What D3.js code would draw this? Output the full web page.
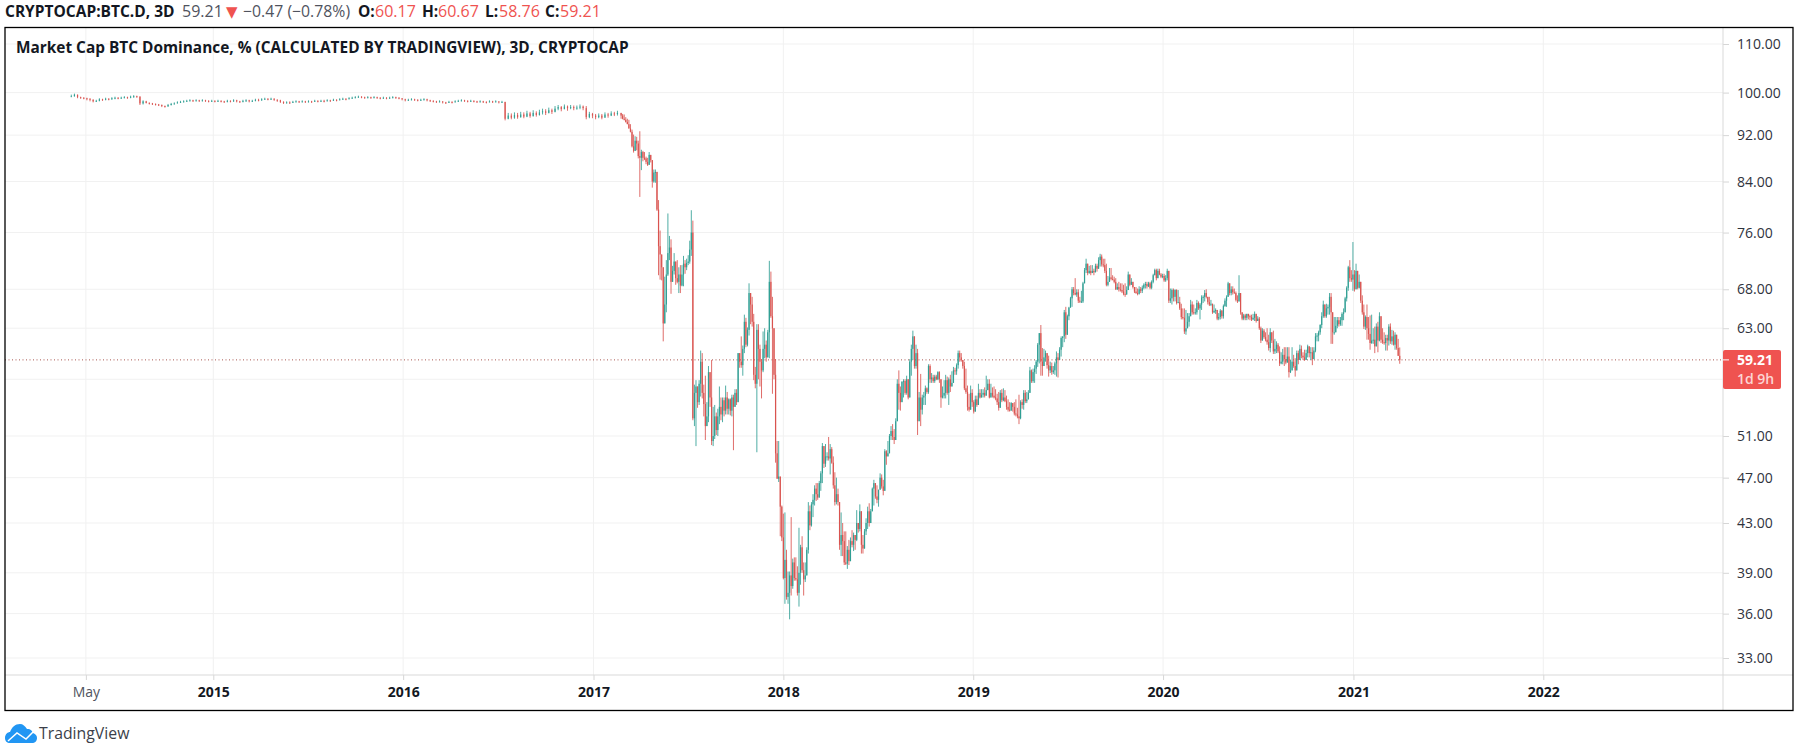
<!DOCTYPE html>
<html>
<head>
<meta charset="utf-8">
<title>BTC Dominance</title>
<script src="https://cdn.jsdelivr.net/npm/d3@7"></script>
<style>
  html, body { margin: 0; background: #fff; }
  svg { display: block; font-family: "Open Sans", sans-serif; }
</style>
</head>
<body>
<svg id="graph" width="1805" height="756"></svg>
<script>
// 2014 to Feb 2017 is nearly flat, read every second bar (6 days)
const flatStart = "2014-04-03";
const flatCloses = [
  99.3,99.6,99.1,99.0,98.9,98.8,98.6,98.3,98.4,98.7,98.6,98.8,98.7,98.9,99.0,98.9,99.0,99.1,99.0,99.2,
  99.3,99.2,97.9,98.3,98.0,97.9,97.8,97.7,97.6,97.4,97.3,97.6,97.8,97.9,98.1,98.2,98.3,98.4,98.5,98.4,
  98.5,98.4,98.5,98.4,98.3,98.4,98.3,98.4,98.3,98.2,98.4,98.3,98.5,98.3,98.2,98.4,98.5,98.3,98.4,98.6,
  98.5,98.7,98.8,98.7,98.8,98.6,98.5,98.2,98.0,98.1,98.0,98.2,98.3,98.2,98.3,98.2,98.3,98.2,98.4,98.3,
  98.4,98.3,98.5,98.4,98.6,98.5,98.7,98.8,98.7,98.9,99.0,99.1,99.2,99.1,99.0,99.1,99.0,99.1,99.0,98.9,
  99.0,98.9,99.0,99.1,99.0,98.9,98.7,98.5,98.6,98.7,98.6,98.5,98.6,98.7,98.5,98.4,98.3,98.2,98.3,98.1,
  98.0,98.2,98.1,98.3,98.4,98.5,98.4,98.3,98.4,98.3,98.2,98.3,98.2,98.1,98.3,98.2,98.3,98.1,98.2,95.0,
  95.6,95.2,95.7,95.3,95.8,95.4,96.0,95.5,96.1,95.7,96.2,96.4,96.1,96.6,96.3,96.9,97.2,96.8,97.3,97.0,
  97.2,97.0,97.1,97.3,97.0,95.3,95.9,95.6,95.3,95.6,95.2,95.8,95.6,96.0,95.9,96.1
];
const flatHighs = [
  99.6,99.8,99.6,99.2,99.1,99.0,98.9,98.7,98.6,98.9,98.8,99.0,98.9,99.1,99.2,99.1,99.2,99.3,99.2,99.4,
  99.5,99.4,99.3,98.5,98.4,98.1,98.0,97.9,97.8,97.7,97.5,97.8,98.0,98.1,98.3,98.4,98.5,98.6,98.7,98.6,
  98.7,98.6,98.7,98.6,98.5,98.6,98.5,98.6,98.5,98.4,98.6,98.5,98.7,98.6,98.4,98.6,98.7,98.6,98.6,98.8,
  98.8,98.9,99.0,98.9,99.0,98.9,98.7,98.6,98.3,98.3,98.3,98.4,98.5,98.4,98.5,98.4,98.5,98.4,98.6,98.5,
  98.6,98.6,98.7,98.6,98.8,98.7,98.9,99.0,98.9,99.1,99.2,99.3,99.4,99.3,99.2,99.3,99.2,99.3,99.2,99.1,
  99.2,99.1,99.2,99.3,99.2,99.1,98.9,98.8,98.8,98.9,98.8,98.7,98.8,98.9,98.8,98.6,98.5,98.4,98.5,98.3,
  98.2,98.4,98.3,98.5,98.6,98.7,98.6,98.5,98.6,98.5,98.4,98.5,98.4,98.3,98.5,98.4,98.5,98.3,98.4,98.2,
  96.1,96.0,96.2,96.1,96.3,96.2,96.5,96.3,96.6,96.4,96.7,96.9,96.8,97.1,96.9,97.4,97.6,97.4,97.7,97.5,
  97.6,97.5,97.5,97.7,97.5,97.4,96.3,96.1,95.9,96.0,95.9,96.2,96.1,96.4,96.3,96.5
];
const flatLows = [
  99.2,99.2,98.9,98.8,98.7,98.5,98.3,98.1,98.2,98.3,98.4,98.5,98.5,98.6,98.7,98.7,98.8,98.9,98.8,98.9,
  99.0,99.0,97.6,97.7,97.9,97.7,97.6,97.5,97.4,97.2,97.1,97.3,97.5,97.7,97.9,98.0,98.1,98.2,98.3,98.2,
  98.3,98.2,98.3,98.2,98.1,98.2,98.1,98.2,98.1,98.0,98.1,98.1,98.2,98.1,98.0,98.1,98.2,98.1,98.2,98.3,
  98.3,98.4,98.6,98.5,98.6,98.4,98.2,98.0,97.8,97.9,97.8,98.0,98.1,98.0,98.1,98.0,98.1,98.0,98.2,98.1,
  98.2,98.1,98.3,98.2,98.4,98.3,98.5,98.6,98.5,98.7,98.8,98.9,99.0,98.9,98.8,98.9,98.8,98.9,98.8,98.7,
  98.8,98.7,98.8,98.9,98.8,98.7,98.5,98.3,98.4,98.5,98.4,98.3,98.4,98.5,98.3,98.2,98.1,98.0,98.1,97.9,
  97.8,98.0,97.9,98.1,98.2,98.3,98.2,98.1,98.2,98.1,98.0,98.1,98.0,97.9,98.1,98.0,98.1,97.9,98.0,94.7,
  94.9,94.9,95.0,95.0,95.2,95.1,95.3,95.2,95.4,95.4,95.6,95.8,95.7,96.0,95.9,96.2,96.6,96.4,96.8,96.5,
  96.8,96.6,96.7,96.8,96.6,94.9,95.1,95.1,94.9,95.1,94.9,95.2,95.2,95.5,95.5,95.6
];

// Feb 2017 onwards, one value per 3 day bar. open = previous close
const activeStart = "2017-02-23";
const closes = [
  95.6,95.0,94.8,94.4,94.0,93.2,92.6,90.0,89.2,91.0,90.5,88.3,88.0,89.0,88.0,87.9,87.3,86.8,88.5,87.6,
  84.0,85.5,85.6,79.5,74.0,72.8,71.0,63.6,66.0,70.0,73.0,73.8,69.0,70.5,71.8,69.5,69.0,70.0,68.5,70.0,
  71.5,71.0,71.6,71.8,73.5,76.0,52.8,55.5,56.2,54.5,56.5,59.0,55.5,54.3,52.0,53.0,57.8,55.0,50.5,51.0,
  53.0,51.6,53.0,54.0,53.2,54.7,53.6,55.0,53.8,54.8,53.6,55.0,54.0,55.5,54.5,60.0,59.0,58.6,60.5,63.8,
  61.0,62.8,67.5,66.0,63.8,57.5,56.5,62.8,60.5,59.0,58.0,60.5,61.0,59.5,62.5,69.0,64.5,63.0,57.5,49.3,
  46.9,47.1,44.4,41.8,38.6,40.0,37.2,37.5,38.8,38.0,39.8,38.6,38.5,37.5,39.0,41.0,39.2,38.5,38.8,40.8,
  44.0,42.8,44.6,45.0,46.0,45.5,45.2,46.5,47.4,50.0,48.3,49.0,49.0,48.8,49.7,48.4,46.3,44.8,45.5,44.8,
  41.2,42.0,41.5,39.8,39.7,40.8,39.9,41.5,41.2,42.0,41.6,43.0,42.5,44.0,41.2,40.9,42.3,43.0,44.0,43.0,
  44.0,46.0,46.5,45.3,45.0,45.9,47.0,46.2,45.8,49.5,49.0,49.3,51.0,51.5,50.9,50.6,52.5,56.5,55.5,54.5,
  56.7,56.8,55.5,57.0,55.0,59.0,60.5,62.0,58.5,60.0,52.5,55.0,53.7,55.0,55.2,56.0,55.6,58.5,57.0,57.2,
  56.8,57.3,57.0,57.8,57.0,55.0,55.2,55.5,56.9,55.5,57.0,56.2,56.6,58.0,57.9,58.6,60.0,59.5,59.2,58.5,
  56.0,55.6,54.0,53.7,55.5,54.5,53.5,54.8,54.2,55.5,55.0,55.3,55.5,55.2,55.8,56.5,55.0,55.5,55.2,55.0,
  54.9,54.5,53.9,55.5,54.7,55.0,54.6,54.0,53.7,53.6,54.4,54.0,53.3,53.2,53.0,52.8,54.5,54.2,55.5,54.6,
  54.8,55.5,58.0,56.8,57.8,58.2,59.0,61.0,62.4,59.0,58.5,59.5,60.0,58.6,58.0,58.5,57.8,58.0,58.8,59.5,
  59.2,60.4,61.8,62.0,65.0,62.2,64.5,65.6,66.8,68.0,67.5,67.3,67.6,66.5,66.4,66.4,68.8,70.6,71.5,70.2,
  70.5,70.2,70.5,70.3,71.2,70.8,72.0,72.5,71.4,71.3,70.5,68.6,69.0,69.6,69.4,69.3,69.0,68.0,68.3,68.0,
  67.9,67.7,67.4,67.3,67.9,70.0,68.6,69.0,68.3,67.7,67.5,67.4,68.0,67.8,68.2,68.6,68.7,68.4,68.8,68.2,
  69.0,69.9,70.6,69.5,70.5,70.0,69.7,69.8,69.2,69.5,70.5,66.5,66.8,67.9,67.0,67.9,66.2,66.3,65.5,64.4,
  64.3,62.6,63.0,63.8,64.5,66.0,65.0,64.9,65.0,66.2,65.5,66.0,66.9,67.0,67.5,67.0,66.3,66.0,66.1,65.0,
  65.2,65.3,64.2,64.4,65.2,64.5,65.8,66.5,67.0,68.8,67.5,68.0,67.6,67.5,66.6,66.4,67.5,65.0,64.2,64.6,
  64.3,64.8,64.5,64.4,64.1,64.3,64.8,63.9,64.2,63.0,61.5,62.7,61.9,61.6,61.3,60.6,62.5,61.5,60.2,60.5,
  61.0,60.2,58.8,59.0,59.8,59.3,58.9,59.6,57.8,58.0,59.0,58.5,58.0,60.0,59.2,60.5,59.7,59.5,59.2,60.0,
  60.8,60.0,60.1,59.3,60.3,62.0,62.1,62.5,63.4,64.5,66.0,64.5,65.5,65.7,67.0,65.0,62.5,62.5,63.3,64.0,
  63.5,64.0,64.8,65.0,66.8,68.2,71.0,69.5,69.3,70.0,68.0,70.5,68.2,69.0,66.5,65.0,63.2,64.4,63.0,62.3,
  61.2,61.5,61.6,60.8,63.2,61.5,64.5,61.6,61.3,61.2,61.8,61.5,63.2,61.4,62.0,61.0,62.2,60.6,59.68,59.21
];
const highs = [
  96.0,95.9,95.8,95.3,95.0,94.8,94.0,93.0,92.1,91.8,91.7,91.0,92.7,89.4,89.2,89.0,88.2,88.0,89.0,88.4,
  87.6,86.0,86.0,84.7,81.0,76.3,72.0,69.7,69.7,72.0,78.9,75.5,75.0,71.2,73.0,70.8,72.0,71.0,71.3,71.3,
  72.6,72.0,72.2,72.7,74.8,79.4,77.8,56.4,56.9,56.2,56.9,60.3,60.0,56.4,57.4,54.5,58.5,57.0,59.2,54.0,
  54.2,53.4,53.8,56.2,55.0,55.0,55.0,56.3,55.6,54.9,54.9,55.3,55.3,55.9,55.9,60.0,60.0,62.0,60.9,64.7,
  64.3,63.1,68.8,66.8,67.0,64.8,58.4,63.5,63.5,61.0,59.3,62.6,63.0,61.5,62.8,71.9,70.4,67.0,62.8,59.3,
  50.5,50.5,47.0,44.5,43.8,43.9,40.8,39.1,39.1,43.5,40.1,40.2,40.2,39.5,42.6,41.2,41.9,39.8,39.8,41.0,
  44.8,44.5,44.8,45.5,46.3,46.5,46.5,46.7,47.6,50.3,49.2,50.2,49.4,50.9,50.2,49.9,49.0,47.5,47.0,46.0,
  44.3,43.9,43.0,42.3,42.3,41.1,41.6,41.8,42.4,42.2,42.0,44.1,43.0,44.6,43.0,42.0,42.5,43.4,44.4,44.7,
  44.2,46.1,46.8,46.1,46.3,45.9,47.4,47.3,46.8,49.7,49.6,50.5,51.2,52.0,52.2,51.7,52.8,57.0,58.0,56.2,
  56.8,57.0,57.0,57.4,56.3,59.3,61.0,62.7,61.0,61.0,60.5,55.6,57.6,55.3,55.6,56.3,56.1,58.7,58.7,57.7,
  57.5,57.5,57.5,57.9,57.9,57.0,56.2,56.9,57.5,57.3,57.2,57.5,57.9,58.4,58.3,58.8,60.3,60.3,60.0,59.2,
  59.0,58.2,56.3,55.4,56.3,55.9,54.7,55.2,55.2,56.5,55.9,55.9,55.9,56.1,57.4,57.0,57.0,56.5,56.1,56.2,
  55.9,55.4,55.6,55.8,55.9,56.0,55.8,55.2,54.8,54.5,54.5,54.4,54.5,54.8,53.9,55.3,54.7,54.8,55.8,55.8,
  55.6,55.8,58.4,58.1,58.2,58.6,59.2,61.2,62.4,63.4,60.6,60.5,60.3,59.7,59.7,59.0,58.9,58.5,59.0,60.2,
  60.0,60.7,62.0,62.0,65.3,65.7,64.7,65.7,67.0,68.3,68.3,69.5,68.0,68.0,67.0,67.8,69.0,70.9,72.2,71.3,
  71.2,71.3,71.3,70.8,71.5,71.5,72.4,72.9,72.8,72.2,72.2,71.5,69.8,70.9,70.9,69.9,69.7,69.5,68.8,69.0,
  68.8,68.8,68.6,68.8,68.4,70.4,69.7,69.5,69.0,68.3,68.3,68.1,68.4,68.3,68.5,68.8,69.0,69.0,69.0,69.0,
  69.2,70.1,70.8,70.8,70.8,70.8,70.2,70.1,70.1,69.9,70.8,69.9,68.1,68.1,68.1,68.0,68.0,67.9,67.0,66.1,
  65.5,65.5,65.3,64.9,64.9,66.6,66.4,66.0,65.5,66.6,66.4,66.2,67.2,67.2,67.9,68.0,67.0,67.0,66.6,66.0,
  66.0,65.5,65.3,64.9,65.4,65.3,66.0,66.8,67.2,69.0,68.4,68.4,68.4,68.1,67.7,67.2,69.9,67.2,65.0,64.8,
  64.8,64.8,64.8,64.7,64.7,64.8,65.1,64.7,64.5,64.4,63.2,63.0,62.9,62.5,63.0,62.2,63.0,62.5,62.7,61.7,
  61.4,61.2,60.8,60.1,60.5,60.7,60.7,60.7,60.7,59.2,60.7,59.8,59.4,60.3,60.3,61.0,60.9,60.1,60.4,60.4,
  61.0,60.5,60.7,60.7,60.7,62.4,62.4,62.7,63.5,65.0,66.5,65.3,66.1,66.0,67.5,67.5,65.0,64.4,64.4,64.4,
  64.4,64.4,65.0,65.5,67.0,68.4,71.2,72.0,70.6,74.6,70.6,71.5,70.0,70.0,69.0,67.2,66.0,64.6,66.0,64.4,
  64.6,64.7,63.0,63.2,63.6,63.8,65.0,63.2,63.0,62.5,62.2,62.2,63.5,63.6,62.8,62.7,62.5,61.7,61.7,60.67
];
const lows = [
  95.0,94.9,94.7,94.3,94.0,93.2,92.5,89.8,88.9,89.6,89.3,87.9,81.5,85.9,87.4,87.6,86.9,86.6,87.0,87.2,
  83.0,83.8,83.8,79.3,69.9,69.3,69.2,61.4,65.2,65.0,69.8,72.0,67.4,69.6,70.0,68.6,68.8,67.5,67.5,68.4,
  68.4,70.1,70.6,71.3,71.5,72.6,52.6,52.0,50.0,53.9,54.2,55.1,54.9,53.0,50.6,52.6,52.4,54.0,50.1,50.0,
  50.7,51.1,51.0,52.2,52.6,52.4,53.0,53.2,53.2,53.2,53.1,53.0,49.6,54.0,54.2,56.6,58.3,58.3,57.4,60.0,
  60.7,60.8,62.1,63.5,63.2,56.9,56.0,49.4,57.0,56.2,54.9,57.8,59.4,59.0,59.5,59.4,64.3,55.4,57.0,48.4,
  46.9,46.6,41.9,41.5,38.5,36.7,37.0,36.7,35.6,37.3,37.8,38.4,38.4,37.3,36.5,38.1,39.0,37.3,38.3,39.0,
  40.5,42.4,42.7,43.5,44.5,44.9,45.0,45.2,45.8,46.5,47.9,48.0,48.6,48.6,47.3,48.3,46.0,44.5,44.6,44.5,
  40.8,40.3,40.3,39.6,39.6,39.3,39.6,40.1,41.0,40.7,40.8,41.5,42.2,42.3,40.5,40.5,41.2,42.0,42.5,42.7,
  43.0,44.2,44.5,45.1,44.7,44.4,45.9,46.0,45.4,45.9,48.2,49.0,49.7,50.6,50.6,50.2,51.0,52.7,53.7,53.6,
  54.5,55.0,55.3,55.3,54.8,56.6,57.4,59.2,58.2,58.2,51.1,53.0,52.0,53.2,54.2,54.2,55.4,55.4,56.6,56.6,
  56.6,56.6,56.9,56.9,56.6,53.9,54.9,54.9,54.9,55.3,54.2,55.6,56.4,56.6,57.5,57.5,58.2,59.0,59.0,58.2,
  55.8,55.4,53.6,53.5,53.8,54.0,53.3,53.8,54.0,54.9,54.9,55.1,55.0,55.0,55.2,55.9,54.9,55.2,55.0,54.9,
  54.7,54.2,53.6,54.0,54.5,54.6,54.5,53.7,53.5,53.5,53.6,53.5,53.1,53.0,52.8,52.2,52.7,53.8,53.7,54.4,
  54.4,55.0,55.8,56.6,56.6,56.6,57.6,58.4,58.8,57.4,57.4,58.7,59.0,58.2,57.3,57.7,57.5,57.6,57.5,57.3,
  57.2,59.5,59.6,60.7,61.3,61.7,63.8,64.0,65.7,65.7,67.2,67.2,67.0,66.2,66.2,66.2,66.2,69.0,70.2,69.9,
  70.1,69.9,70.2,69.9,70.4,70.4,71.1,71.1,71.1,71.0,70.2,68.4,68.4,69.0,69.2,69.2,68.8,67.9,67.9,67.7,
  67.7,67.5,67.2,67.0,67.5,68.1,68.4,68.6,68.1,67.5,67.4,67.2,67.3,67.5,67.5,68.0,68.1,68.1,68.3,68.0,
  68.0,68.8,69.9,69.2,69.9,69.9,69.5,69.5,69.0,69.0,69.2,66.2,66.2,66.0,66.4,66.4,66.0,66.2,65.3,64.1,
  64.1,62.3,62.2,63.0,63.2,64.7,64.7,64.7,64.7,64.7,65.3,64.1,65.3,66.2,66.4,66.8,66.0,65.8,65.8,64.8,
  64.9,64.8,64.0,64.0,64.1,64.2,64.2,65.7,65.7,67.0,67.2,67.2,67.3,67.4,66.4,66.2,67.0,64.7,64.0,64.0,
  64.0,64.0,64.1,64.0,63.9,64.0,63.9,63.7,63.9,62.8,61.2,61.7,61.7,61.4,61.0,60.3,60.1,61.2,59.9,59.9,
  60.0,60.0,58.5,58.7,58.7,58.5,58.7,58.9,57.2,57.7,58.4,58.3,57.3,58.4,58.7,59.7,59.4,59.2,59.1,59.5,
  59.5,59.5,59.2,58.6,59.3,60.1,61.4,61.4,62.2,63.0,64.3,64.3,64.3,64.7,64.7,61.1,61.1,62.2,62.6,63.0,
  63.2,63.3,63.3,64.0,65.0,66.4,67.8,69.0,69.0,67.8,67.7,68.0,68.0,68.1,66.2,64.7,62.9,62.8,61.6,61.6,
  60.4,61.1,61.1,60.0,61.1,60.1,61.4,61.2,61.1,61.0,60.3,60.3,60.9,61.1,61.0,60.9,60.4,60.4,59.9,58.76
];

const yTicks = [110, 100, 92, 84, 76, 68, 63, 57, 51, 47, 43, 39, 36, 33];
const xTickDates = ["2014-05-01", "2015-01-01", "2016-01-01", "2017-01-01", "2018-01-01", "2019-01-01", "2020-01-01", "2021-01-01", "2022-01-01"];
const xTickLabels = ["May", "2015", "2016", "2017", "2018", "2019", "2020", "2021", "2022"];
const lastPrice = 59.21;
const countdown = "1d 9h";

const chartTitle = "Market Cap BTC Dominance, % (CALCULATED BY TRADINGVIEW), 3D, CRYPTOCAP";
const upColor = "#2f9e93";
const downColor = "#d9534f";
const labelColor = "#ef5350";
const textColor = "#131722";

const frame = { left: 5, right: 1793, top: 27, bottom: 710, axisX: 1723, axisY: 675 };

const x = d3.scaleUtc()
  .domain([new Date("2015-01-01"), new Date("2022-01-01")])
  .range([213.3, 1543.3]);

const y = d3.scaleLog()
  .domain([33, 110])
  .range([658, 44]);

const flatDates = flatCloses.map((d, i) => d3.utcDay.offset(new Date(flatStart), i * 6));
const activeDates = closes.map((d, i) => d3.utcDay.offset(new Date(activeStart), i * 3));
const allDates = flatDates.concat(activeDates);
const allCloses = flatCloses.concat(closes);
const allHighs = flatHighs.concat(highs);
const allLows = flatLows.concat(lows);

const bars = allDates.map((date, i) => {
  const close = allCloses[i];
  const open = i ? allCloses[i - 1] : close;
  return {
    date, open, close,
    high: Math.max(allHighs[i], open, close),
    low: Math.min(allLows[i], open, close)
  };
});

const svg = d3.select("#graph");

// grid
svg.append("g")
  .selectAll("line")
  .data(yTicks)
  .join("line")
  .attr("x1", frame.left)
  .attr("x2", frame.axisX)
  .attr("y1", (d) => y(d))
  .attr("y2", (d) => y(d))
  .attr("stroke", "#f1f1f1");

svg.append("g")
  .selectAll("line")
  .data(xTickDates)
  .join("line")
  .attr("x1", (d) => x(new Date(d)))
  .attr("x2", (d) => x(new Date(d)))
  .attr("y1", frame.top)
  .attr("y2", frame.axisY)
  .attr("stroke", "#f1f1f1");

// last price line
svg.append("line")
  .attr("x1", frame.left)
  .attr("x2", frame.axisX)
  .attr("y1", y(lastPrice))
  .attr("y2", y(lastPrice))
  .attr("stroke", "#a8564f")
  .attr("stroke-dasharray", "1 2.5");

// candles
const candle = svg.append("g")
  .selectAll("g")
  .data(bars)
  .join("g")
  .attr("fill", (d) => (d.close >= d.open ? upColor : downColor))
  .attr("stroke", (d) => (d.close >= d.open ? upColor : downColor));

candle.append("line")
  .attr("x1", (d) => x(d.date))
  .attr("x2", (d) => x(d.date))
  .attr("y1", (d) => y(d.high))
  .attr("y2", (d) => y(d.low))
  .attr("stroke-width", 0.85);

candle.append("rect")
  .attr("x", (d) => x(d.date) - 0.6)
  .attr("width", 1.2)
  .attr("y", (d) => y(Math.max(d.open, d.close)))
  .attr("height", (d) => Math.max(1, y(Math.min(d.open, d.close)) - y(Math.max(d.open, d.close))))
  .attr("stroke", "none");

// axes
const yAxis = svg.append("g")
  .attr("transform", `translate(${frame.axisX},0)`)
  .call(d3.axisRight(y).tickValues(yTicks).tickFormat(d3.format(".2f")).tickSize(6).tickPadding(8));
yAxis.select(".domain").remove();
yAxis.selectAll("line").attr("stroke", "#d6d6d6");
yAxis.selectAll("text")
  .attr("font-size", 14)
  .attr("font-family", '"Open Sans", sans-serif')
  .attr("fill", "#2f333d");

const xAxis = svg.append("g")
  .attr("transform", `translate(0,${frame.axisY})`)
  .call(d3.axisBottom(x)
    .tickValues(xTickDates.map((d) => new Date(d)))
    .tickFormat((d, i) => xTickLabels[i])
    .tickSize(5)
    .tickPadding(7));
xAxis.select(".domain").remove();
xAxis.selectAll("line").attr("stroke", "#d6d6d6");
xAxis.selectAll("text")
  .attr("font-size", 14)
  .attr("font-family", '"Open Sans", sans-serif')
  .attr("font-weight", (d, i) => (i ? 700 : 400))
  .attr("fill", (d, i) => (i ? textColor : "#50535e"));

// frame lines
svg.append("line").attr("x1", frame.axisX).attr("x2", frame.axisX).attr("y1", frame.top).attr("y2", frame.bottom).attr("stroke", "#d9d9d9");
svg.append("line").attr("x1", frame.left).attr("x2", frame.right).attr("y1", frame.axisY).attr("y2", frame.axisY).attr("stroke", "#d9d9d9");
svg.append("rect")
  .attr("x", frame.left)
  .attr("y", frame.top + 0.5)
  .attr("width", frame.right - frame.left)
  .attr("height", frame.bottom - frame.top)
  .attr("fill", "none")
  .attr("stroke", "#000")
  .attr("stroke-width", 1.3);

// price label
svg.append("rect")
  .attr("x", frame.axisX)
  .attr("y", 350)
  .attr("width", 58)
  .attr("height", 39)
  .attr("rx", 2)
  .attr("fill", labelColor);
svg.append("line")
  .attr("x1", frame.axisX)
  .attr("x2", frame.axisX + 6)
  .attr("y1", y(lastPrice))
  .attr("y2", y(lastPrice))
  .attr("stroke", "#fff");
svg.append("text")
  .attr("x", 1737)
  .attr("y", 365)
  .attr("font-size", 14)
  .attr("font-weight", 700)
  .attr("fill", "#fff")
  .text(d3.format(".2f")(lastPrice));
svg.append("text")
  .attr("x", 1737)
  .attr("y", 384)
  .attr("font-size", 14)
  .attr("font-weight", 600)
  .attr("fill", "#fcd5d4")
  .text(countdown);

// chart title
svg.append("text")
  .attr("x", 16)
  .attr("y", 53)
  .attr("font-size", 15.4)
  .attr("font-weight", 700)
  .attr("fill", textColor)
  .text(chartTitle);

// header row
const headerParts = [
  { x: 5, text: "CRYPTOCAP:BTC.D, 3D", bold: true, color: textColor, size: 15.5 },
  { x: 182, text: "59.21", color: "#50535e", size: 16 },
  { x: 226, text: "▼", color: labelColor, size: 15, font: '"DejaVu Sans", sans-serif' },
  { x: 243, text: "−0.47 (−0.78%)", color: "#50535e", size: 15.8 },
  { x: 358, text: "O:", bold: true, color: textColor, size: 15.5 },
  { x: 375, text: "60.17", color: labelColor, size: 16 },
  { x: 422, text: "H:", bold: true, color: textColor, size: 15.5 },
  { x: 438, text: "60.67", color: labelColor, size: 16 },
  { x: 485, text: "L:", bold: true, color: textColor, size: 15.5 },
  { x: 499, text: "58.76", color: labelColor, size: 16 },
  { x: 545, text: "C:", bold: true, color: textColor, size: 15.5 },
  { x: 560, text: "59.21", color: labelColor, size: 16 }
];
svg.append("g")
  .selectAll("text")
  .data(headerParts)
  .join("text")
  .attr("x", (d) => d.x)
  .attr("y", 17)
  .attr("font-size", (d) => d.size)
  .attr("font-family", (d) => d.font || null)
  .attr("font-weight", (d) => (d.bold ? 700 : 400))
  .attr("fill", (d) => d.color)
  .text((d) => d.text);

// logo
svg.append("path")
  .attr("d", "M5 738 C5 734 8 732 10 732 C12 727 15 724 20 724 C23 724 25 726 27 729 C31 729 32 731 33 733 C36 734 37 736 37 738 C37 741 35 743 32 743 L10 743 C7 743 5 741 5 738 Z")
  .attr("fill", "#2196f3");
svg.append("path")
  .attr("d", "M8 741 L17 733 L26 739 L34 731")
  .attr("fill", "none")
  .attr("stroke", "#fff")
  .attr("stroke-width", 1.5);
svg.append("text")
  .attr("x", 39)
  .attr("y", 739)
  .attr("font-size", 15.8)
  .attr("fill", "#3b3f4a")
  .text("TradingView");
</script>
</body>
</html>
